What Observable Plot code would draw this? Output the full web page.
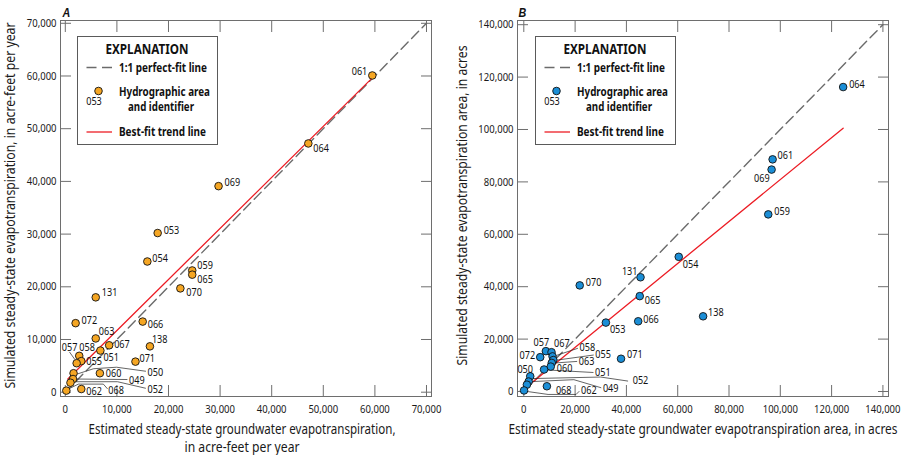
<!DOCTYPE html>
<html>
<head>
<meta charset="utf-8">
<script src="https://cdn.jsdelivr.net/npm/d3@7"></script>
<script src="https://cdn.jsdelivr.net/npm/@observablehq/plot@0.6"></script>
<style>
  html, body { margin: 0; padding: 0; background: #fff; }
  #chart { position: relative; width: 901px; height: 455px; display: flex; }
  .panel { position: relative; }
</style>
</head>
<body>
<div id="chart"></div>
<script>
// ---- Panel A: groundwater evapotranspiration volume, acre-feet per year ----
const idsA = ["061","064","069","053","054","059","065","070","131","072","066","063","138",
              "067","051","058","055","057","071","060","050","049","052","062","068"];
const estimatedEtA = [59500, 47100, 29700, 17900, 15900, 24600, 24600, 22300, 5900, 2000, 15000, 5900, 16400,
                      8500, 6800, 2700, 3100, 2200, 13600, 6700, 1600, 1500, 1000, 3100, 200];
const simulatedEtA = [60100, 47200, 39100, 30200, 24800, 23100, 22300, 19700, 18000, 13100, 13400, 10200, 8700,
                      8900, 7900, 6900, 5900, 5500, 5800, 3600, 3600, 2500, 1800, 600, 300];
const trendA = { x: [500, 59500], y: [2500, 59650] };
const perfectA = [0, 70000];
const ticksA = [0, 10000, 20000, 30000, 40000, 50000, 60000, 70000];

// ---- Panel B: groundwater evapotranspiration area, acres ----
const idsB = ["064","061","069","059","054","131","065","070","053","066","138","071","057","067",
              "072","058","055","063","060","051","050","052","049","062","068"];
const estimatedAreaB = [124500, 97000, 96600, 95300, 60400, 45500, 45200, 21800, 32000, 44600, 69900, 37900, 8600, 10800,
                        6400, 11200, 11500, 10900, 10500, 7900, 2500, 1900, 1200, 100, 9000];
const simulatedAreaB = [116200, 88600, 84700, 67600, 51400, 43600, 36400, 40500, 26300, 26800, 28700, 12500, 15400, 15000,
                        13100, 13400, 12000, 10900, 9500, 8400, 5800, 3800, 2600, 400, 2000];
const trendB = { x: [1000, 124500], y: [1650, 100500] };
const perfectB = [0, 140000];
const ticksB = [0, 20000, 40000, 60000, 80000, 100000, 120000, 140000];

// Label placement: [text-anchor, dx, dy, optional leader polyline as pixel offsets from the dot]
const placementA = {
  "061": ["end", -5, -4], "064": ["start", 5, 5], "069": ["start", 6, -4], "053": ["start", 6, -3],
  "054": ["start", 5, -3], "059": ["start", 5, -5], "065": ["start", 5, 5], "070": ["start", 6, 4],
  "131": ["start", 6, -5], "072": ["start", 6, -3], "063": ["start", 3, -7], "066": ["start", 5, 3],
  "138": ["start", 2, -7], "067": ["start", 5, -1], "051": ["start", 3, 7], "058": ["start", 0, -8],
  "055": ["start", 5, 0], "057": ["middle", -7, -16, [[-2, -4], [-7, -11]]],
  "071": ["start", 4, -3], "060": ["start", 6, 0],
  "050": ["start", 74, -1, [[3, 1], [20, -4.5], [43, -6], [72, -2]]],
  "049": ["start", 56, 1, [[3, 0], [54, 0.5]]],
  "052": ["start", 77, 7, [[3, -1], [47, -1], [75, 5.5]]],
  "062": ["start", 5, 2],
  "068": ["start", 42, 0, [[3, -2], [12, -6.5], [37, -6.5], [41, -2]]]
};
const placementB = {
  "064": ["start", 6, -3], "061": ["start", 5, -4], "069": ["end", -2, 9], "059": ["start", 6, -3],
  "054": ["start", 4, 8], "131": ["end", -3, -6], "065": ["start", 5, 4], "066": ["start", 5, -2],
  "138": ["start", 5, -4], "053": ["start", 4, 7], "070": ["start", 6, -3], "071": ["start", 6, -4],
  "057": ["middle", -4.5, -8.5], "067": ["start", 2.5, -8.5], "072": ["end", -5, -2],
  "058": ["start", 27, -9, [[4, -1], [25, -8]]],
  "055": ["start", 42, -6, [[4, 0], [40, -5]]],
  "063": ["start", 27, -1.5, [[4, 0], [25, -1.5]]],
  "060": ["start", 6, 2],
  "051": ["start", 51, 3, [[4, 0.5], [49, 3]]],
  "050": ["middle", -5, -7],
  "052": ["start", 104, -1, [[4, -3], [72, -4.5], [99, -0.5]]],
  "049": ["start", 76, 4, [[3, -3], [47, -5], [74, 3]]],
  "062": ["start", 57, 0, [[3, 1], [24, 4], [52, 4], [55, 1]]],
  "068": ["start", 9, 4.5]
};

const FONT = '"Liberation Sans Narrow", "Noto Sans", "DejaVu Sans Condensed", sans-serif';
const FRAME = "#6e6e6e";

// Set widths of the longer text runs (titles and explanation), in pixels.
const runWidths = {
  "Estimated steady-state groundwater evapotranspiration,": 307,
  "in acre-feet per year": 115,
  "Estimated steady-state groundwater evapotranspiration area, in acres": 389,
  "Simulated steady-state evapotranspiration, in acre-feet per year": 366,
  "Simulated steady-state evapotranspiration area, in acres": 320,
  "EXPLANATION": 83,
  "1:1 perfect-fit line": 88,
  "Hydrographic area": 91,
  "and identifier": 66,
  "Best-fit trend line": 87
};

function drawPanel(cfg) {
  const { ids, xs, ys, width, height, ml, mr, mt, mb, xDomain, yDomain, ticks } = cfg;
  // pixel helpers, matching the plot's linear scales, used to place leader lines
  const px = d3.scaleLinear(xDomain, [ml, width - mr]);
  const py = d3.scaleLinear(yDomain, [height - mb, mt]);
  const pts = ids.map((id, i) => ({ id, x: xs[i], y: ys[i] }));
  const byId = new Map(pts.map(d => [d.id, d]));

  const leaderVerts = [];
  for (const [id, p] of Object.entries(cfg.placement)) {
    if (!p[3]) continue;
    const d = byId.get(id);
    for (const [dx, dy] of p[3]) {
      leaderVerts.push({ id, x: px.invert(px(d.x) + dx), y: py.invert(py(d.y) + dy) });
    }
  }

  const labelMarks = pts.map(d => {
    const [anchor, dx, dy] = cfg.placement[d.id];
    return Plot.text([d], { x: "x", y: "y", text: "id", textAnchor: anchor, dx, dy, fontSize: 11, fill: "#111" });
  });

  const fmt = d3.format(",");
  const plot = Plot.plot({
    width, height,
    marginLeft: ml, marginRight: mr, marginTop: mt, marginBottom: mb,
    x: { domain: xDomain, label: null },
    y: { domain: yDomain, label: null },
    style: { fontFamily: FONT, fontStretch: "condensed", fontSize: "11.5px", color: "#1a1a1a", background: "transparent", overflow: "visible" },
    marks: [
      Plot.frame({ stroke: FRAME, strokeWidth: 1 }),
      Plot.axisX(ticks, { anchor: "bottom", tickSize: -11, tickPadding: 19, tickFormat: fmt, stroke: FRAME, fill: "#1a1a1a", label: null }),
      Plot.axisX(ticks, { anchor: "top", tickSize: -11, tickFormat: () => "", stroke: FRAME, label: null }),
      Plot.axisY(ticks, { anchor: "left", tickSize: -11, tickPadding: 15, tickFormat: fmt, stroke: FRAME, fill: "#1a1a1a", label: null }),
      Plot.axisY(ticks, { anchor: "right", tickSize: -11, tickFormat: () => "", stroke: FRAME, label: null }),
      Plot.line(cfg.perfect.map(v => ({ x: v, y: v })), { x: "x", y: "y", stroke: "#6b6b6b", strokeWidth: 1.4, strokeDasharray: "10,5" }),
      Plot.line(cfg.trend.x.map((v, i) => ({ x: v, y: cfg.trend.y[i] })), { x: "x", y: "y", stroke: "#ec1c24", strokeWidth: 1.3 }),
      Plot.line(leaderVerts, { x: "x", y: "y", z: "id", stroke: "#222", strokeWidth: 0.7 }),
      Plot.dot(pts, { x: "x", y: "y", r: 3.8, fill: cfg.color, stroke: "#111", strokeWidth: 0.9 }),
      ...labelMarks,
      Plot.text([cfg.xTitle], { text: d => d, frameAnchor: "bottom", textAnchor: "middle", dx: cfg.xTitleDx, dy: 25.5, lineAnchor: "top", fontSize: 14, lineHeight: 1.25, fill: "#1a1a1a" }),
      Plot.text([cfg.yTitle], { text: d => d, frameAnchor: "left", textAnchor: "middle", lineAnchor: "middle", rotate: -90, dx: cfg.yTitleDx, dy: -3, fontSize: 14, fill: "#1a1a1a" }),
      Plot.text([cfg.letter], { text: d => d, frameAnchor: "top-left", textAnchor: "start", dx: cfg.letterDx, dy: -12.5, fontSize: 13, fontWeight: "bold", fontStyle: "italic", fontFamily: "Liberation Sans, sans-serif", fill: "#111" })
    ]
  });

  const panel = document.createElement("div");
  panel.className = "panel";
  panel.style.width = width + "px";
  panel.style.height = height + "px";
  panel.appendChild(plot);
  panel.appendChild(drawLegend(cfg.color, cfg.legendLeft));
  return panel;
}

function drawLegend(color, left) {
  const svg = d3.create("svg")
    .attr("width", 141).attr("height", 109)
    .style("position", "absolute").style("left", left + "px").style("top", "36px")
    .style("font-family", FONT).style("font-stretch", "condensed").style("overflow", "visible");
  svg.append("rect").attr("x", 0.5).attr("y", 0.5).attr("width", 140).attr("height", 108)
    .attr("fill", "#fff").attr("stroke", "#5a5a5a").attr("stroke-width", 1);
  const t = (x, y, s, opts = {}) => svg.append("text").attr("x", x).attr("y", y).attr("dy", "0.35em")
    .attr("text-anchor", opts.anchor || "start").attr("font-size", opts.size || 12.5)
    .attr("font-weight", opts.weight || "bold").attr("fill", "#111").text(s);
  t(70, 13, "EXPLANATION", { anchor: "middle", size: 14 });
  svg.append("line").attr("x1", 9.5).attr("x2", 35).attr("y1", 31.5).attr("y2", 31.5)
    .attr("stroke", "#6b6b6b").attr("stroke-width", 1.4).attr("stroke-dasharray", "10,5.5");
  t(42, 31.5, "1:1 perfect-fit line");
  svg.append("circle").attr("cx", 21.5).attr("cy", 55).attr("r", 3.8)
    .attr("fill", color).attr("stroke", "#111").attr("stroke-width", 0.9);
  t(17, 65, "053", { anchor: "middle", size: 11, weight: "normal" });
  t(42, 56, "Hydrographic area");
  t(51, 71, "and identifier");
  svg.append("line").attr("x1", 9.5).attr("x2", 35).attr("y1", 96).attr("y2", 96)
    .attr("stroke", "#ec1c24").attr("stroke-width", 1.3);
  t(42, 96, "Best-fit trend line");
  return svg.node();
}

// The typeface is a condensed sans; when the installed fonts are wider,
// squeeze the text runs horizontally so that the line lengths stay the same.
function condenseText(root) {
  const probe = d3.select(root).append("svg").attr("width", 10).attr("height", 10)
    .style("position", "absolute").style("left", "-2000px")
    .style("font-family", FONT).style("font-stretch", "condensed");
  const sample = probe.append("text").attr("font-size", 14).text("Estimated steady-state groundwater evapotranspiration,");
  const natural = sample.node().getComputedTextLength();
  probe.remove();
  const k = Math.min(1, 307 / natural);
  root.querySelectorAll("text").forEach(t => {
    const spans = t.querySelectorAll("tspan");
    const runs = spans.length ? Array.from(spans) : [t];
    runs.forEach(el => {
      const s = el.textContent;
      const w = el.getComputedTextLength();
      const target = runWidths[s] !== undefined ? runWidths[s] : (k < 0.985 ? w * k : null);
      if (w > 0 && target) {
        el.setAttribute("textLength", target.toFixed(2));
        el.setAttribute("lengthAdjust", "spacingAndGlyphs");
      }
    });
  });
}

const chart = document.getElementById("chart");
chart.appendChild(drawPanel({
  ids: idsA, xs: estimatedEtA, ys: simulatedEtA, placement: placementA,
  width: 450, height: 455, ml: 60, mr: 19, mt: 20, mb: 59,
  xDomain: [-930, 70970], yDomain: [-816, 70530], ticks: ticksA,
  perfect: perfectA, trend: trendA, color: "#f5a623",
  xTitle: "Estimated steady-state groundwater evapotranspiration,\nin acre-feet per year", xTitleDx: -4,
  yTitle: "Simulated steady-state evapotranspiration, in acre-feet per year", yTitleDx: -50,
  letter: "A", letterDx: 2, legendLeft: 77
}));
chart.appendChild(drawPanel({
  ids: idsB, xs: estimatedAreaB, ys: simulatedAreaB, placement: placementB,
  width: 451, height: 455, ml: 67, mr: 13, mt: 20, mb: 59,
  xDomain: [-2460, 142180], yDomain: [-1910, 141600], ticks: ticksB,
  perfect: perfectB, trend: trendB, color: "#1b8ed6",
  xTitle: "Estimated steady-state groundwater evapotranspiration area, in acres", xTitleDx: 0,
  yTitle: "Simulated steady-state evapotranspiration area, in acres", yTitleDx: -55,
  letter: "B", letterDx: 1, legendLeft: 85
}));
condenseText(chart);
</script>
</body>
</html>
